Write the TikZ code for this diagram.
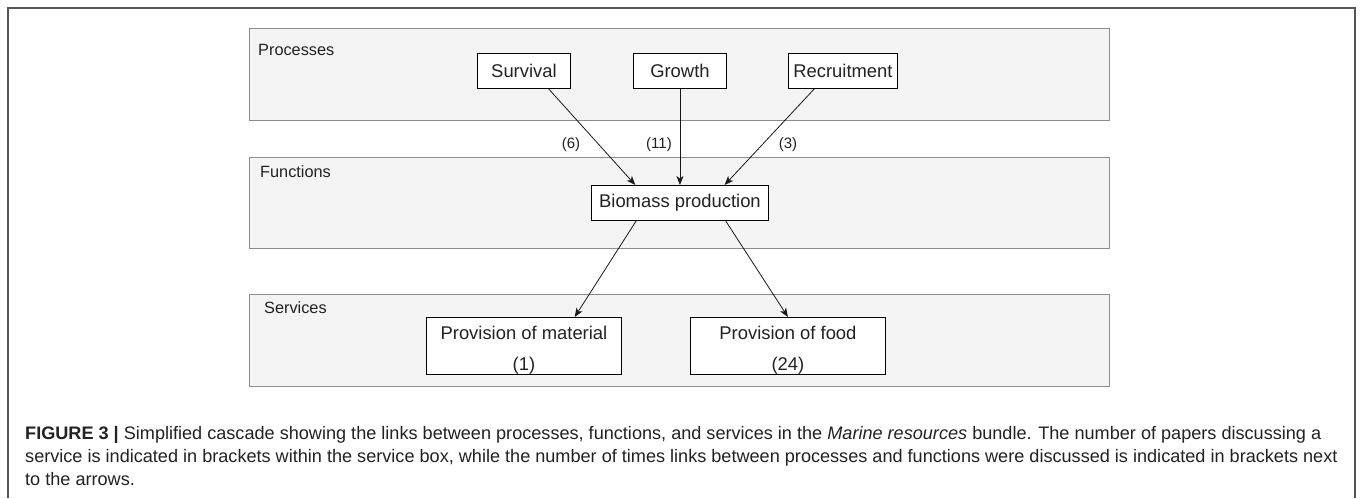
\documentclass[tikz,border=0pt]{standalone}
\usepackage{fontspec}
\setmainfont{Liberation Sans}
\usetikzlibrary{arrows.meta,calc}
\definecolor{secfill}{HTML}{F4F4F4}
\definecolor{secline}{HTML}{8C8C8C}
\definecolor{framec}{HTML}{555555}
\definecolor{txt}{HTML}{222222}
\newlength\capw
\newcommand\capone{\textbf{FIGURE 3 |} Simplified cascade showing the links between processes, functions, and services in the \textit{Marine resources} bundle. The number of papers discussing a}
\newcommand\captwo{service is indicated in brackets within the service box, while the number of times links between processes and functions were discussed is indicated in brackets next}
\newcommand\capthree{to the arrows.}
\begin{document}
\settowidth\capw{\fontsize{10}{12}\selectfont\capone}%
\pgfmathsetmacro\capfs{12960/\capw}%
\begin{tikzpicture}[x=1pt,y=-1pt,
  secbox/.style={draw=secline, fill=secfill, line width=1.1pt, anchor=north west, inner sep=0pt},
  itembox/.style={draw=black, fill=white, line width=0.9pt, anchor=north west, inner sep=0pt, minimum height=35pt, text=txt, font=\fontsize{18.4}{20}\selectfont},
  seclbl/.style={anchor=base west, inner sep=0pt, text=txt, font=\fontsize{16.3}{18}\selectfont},
  cnt/.style={inner sep=0pt, text=txt, font=\fontsize{15}{17}\selectfont},
  boxtxt/.style={inner sep=0pt, text=txt, font=\fontsize{18.4}{20}\selectfont},
  arr/.style={draw=black!90, line width=0.8pt, -{Stealth[length=9pt,width=7pt,inset=2.5pt]}},
  capline/.style={anchor=base west, inner sep=0pt, text=txt}
]
\useasboundingbox (0,0) rectangle (1360,498);
\fill[white] (0,0) rectangle (1360,498);
\draw[framec, line width=1.3pt] (8,498) -- (8,8) -- (1355,8) -- (1355,498);

% section containers
\node[secbox, minimum width=860pt, minimum height=92pt] (proc) at (249,28) {};
\node[secbox, minimum width=860pt, minimum height=91pt] (func) at (249,157) {};
\node[secbox, minimum width=860pt, minimum height=92pt] (serv) at (249,294) {};
\node[seclbl] (lproc) at (258,55.5) {Processes};
\node[seclbl] (lfunc) at (260,177) {Functions};
\node[seclbl] (lserv) at (264,313) {Services};

% process boxes
\node[itembox, minimum width=93pt] (surv) at (477,53) {Survival};
\node[itembox, minimum width=93pt] (grow) at (633,53) {Growth};
\node[itembox, minimum width=109pt] (recr) at (788,53) {Recruitment};

% function box
\node[itembox, minimum width=177pt] (bio) at (591,185) {Biomass production};

% service boxes
\node[itembox, minimum width=195pt, minimum height=57pt] (mat) at (426,317) {};
\node[itembox, minimum width=195pt, minimum height=57pt] (food) at (690,317) {};
\node[boxtxt] (matt) at ($(mat.north)+(0,16)$) {Provision of material};
\node[boxtxt] (matn) at ($(mat.north)+(0,49)$) {(1)};
\node[boxtxt] (foodt) at ($(food.north)+(0,16)$) {Provision of food};
\node[boxtxt] (foodn) at ($(food.north)+(0,49)$) {(24)};

% arrows
\draw[arr] ($(surv.south west)!0.763!(surv.south east)$) -- ($(bio.north west)!0.249!(bio.north east)$);
\draw[arr] (grow.south) -- (bio.north);
\draw[arr] ($(recr.south west)!0.239!(recr.south east)$) -- ($(bio.north west)!0.751!(bio.north east)$);
\draw[arr] ($(bio.south west)!0.254!(bio.south east)$) -- ($(mat.north west)!0.759!(mat.north east)$);
\draw[arr] ($(bio.south west)!0.757!(bio.south east)$) -- (food.north);

% counts
\node[cnt] (c6) at (571,145) {(6)};
\node[cnt] (c11) at (659,145) {(11)};
\node[cnt] (c3) at (788,145) {(3)};

% caption
\node[capline, font=\fontsize{\capfs}{\capfs}\selectfont] (cap1) at (25,439) {\capone};
\node[capline, font=\fontsize{\capfs}{\capfs}\selectfont] (cap2) at (25,462) {\captwo};
\node[capline, font=\fontsize{\capfs}{\capfs}\selectfont] (cap3) at (25,485) {\capthree};
\end{tikzpicture}
\end{document}
